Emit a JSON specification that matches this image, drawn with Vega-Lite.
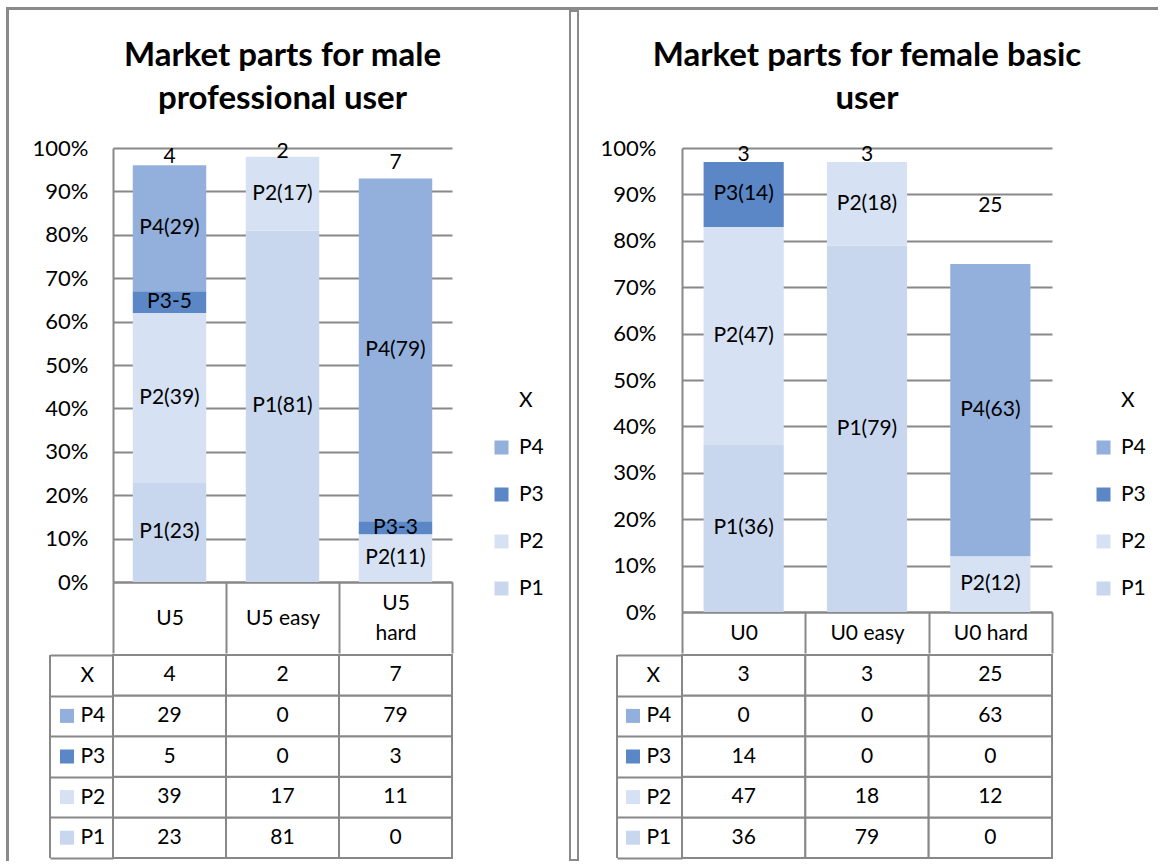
{
  "$schema": "https://vega.github.io/schema/vega-lite/v6.json",
  "padding": {"left": 6, "top": 7, "right": 0, "bottom": 0},
  "background": "white",
  "config": {
    "view": {"stroke": null},
    "font": "Lato",
    "text": {"font": "Lato"},
    "axis": {"labelFont": "Lato"},
    "legend": {"labelFont": "Lato"}
  },
  "datasets": {
    "male": [
      {"cat": "U5", "s": "P1", "v": 23, "lab": "P1(23)"},
      {"cat": "U5", "s": "P2", "v": 39, "lab": "P2(39)"},
      {"cat": "U5", "s": "P3", "v": 5, "lab": "P3-5"},
      {"cat": "U5", "s": "P4", "v": 29, "lab": "P4(29)"},
      {"cat": "U5", "s": "X", "v": 4, "lab": "4"},
      {"cat": "U5 easy", "s": "P1", "v": 81, "lab": "P1(81)"},
      {"cat": "U5 easy", "s": "P2", "v": 17, "lab": "P2(17)"},
      {"cat": "U5 easy", "s": "P3", "v": 0, "lab": ""},
      {"cat": "U5 easy", "s": "P4", "v": 0, "lab": ""},
      {"cat": "U5 easy", "s": "X", "v": 2, "lab": "2"},
      {"cat": "U5 hard", "s": "P1", "v": 0, "lab": ""},
      {"cat": "U5 hard", "s": "P2", "v": 11, "lab": "P2(11)"},
      {"cat": "U5 hard", "s": "P3", "v": 3, "lab": "P3-3"},
      {"cat": "U5 hard", "s": "P4", "v": 79, "lab": "P4(79)"},
      {"cat": "U5 hard", "s": "X", "v": 7, "lab": "7"}
    ],
    "female": [
      {"cat": "U0", "s": "P1", "v": 36, "lab": "P1(36)"},
      {"cat": "U0", "s": "P2", "v": 47, "lab": "P2(47)"},
      {"cat": "U0", "s": "P3", "v": 14, "lab": "P3(14)"},
      {"cat": "U0", "s": "P4", "v": 0, "lab": ""},
      {"cat": "U0", "s": "X", "v": 3, "lab": "3"},
      {"cat": "U0 easy", "s": "P1", "v": 79, "lab": "P1(79)"},
      {"cat": "U0 easy", "s": "P2", "v": 18, "lab": "P2(18)"},
      {"cat": "U0 easy", "s": "P3", "v": 0, "lab": ""},
      {"cat": "U0 easy", "s": "P4", "v": 0, "lab": ""},
      {"cat": "U0 easy", "s": "X", "v": 3, "lab": "3"},
      {"cat": "U0 hard", "s": "P1", "v": 0, "lab": ""},
      {"cat": "U0 hard", "s": "P2", "v": 12, "lab": "P2(12)"},
      {"cat": "U0 hard", "s": "P3", "v": 0, "lab": ""},
      {"cat": "U0 hard", "s": "P4", "v": 63, "lab": "P4(63)"},
      {"cat": "U0 hard", "s": "X", "v": 25, "lab": "25"}
    ]
  },
  "spacing": 0,
  "vconcat": [
    {
      "width": 1150, "height": 1,
      "data": {"values": []},
      "mark": {"type": "point", "opacity": 0},
      "encoding": {},
      "view": {"stroke": "#8a8a8a", "strokeWidth": 2}
    },
    {
      "spacing": 25,
      "resolve": {"scale": {"color": "independent"}, "legend": {"color": "independent"}},
      "hconcat": [
        {
          "spacing": 23,
          "resolve": {"scale": {"color": "independent"}, "legend": {"color": "independent"}},
          "hconcat": [
            {
              "width": 1, "height": 849,
              "data": {"values": []},
              "mark": {"type": "point", "opacity": 0},
              "encoding": {},
              "view": {"stroke": "#8a8a8a", "strokeWidth": 2}
            },
            {
              "spacing": -10,
              "resolve": {"scale": {"color": "independent"}, "legend": {"color": "independent"}},
              "vconcat": [
                {
                  "width": 339, "height": 136,
                  "data": {"values": [{}]},
                  "mark": {"type": "text", "text": ["Market parts for male", "professional user"], "fontSize": 33, "fontWeight": "bold", "lineHeight": 43, "baseline": "middle", "align": "center", "dy": -23, "color": "black"},
                  "encoding": {}
                },
                {
                  "width": 339, "height": 434,
                  "data": {"name": "male"},
                  "transform": [{"stack": "v", "groupby": ["cat"], "sort": [{"field": "s", "order": "ascending"}], "as": ["v0", "v1"]}],
                  "encoding": {
                    "x": {"field": "cat", "type": "nominal", "scale": {"paddingInner": 0, "paddingOuter": 0},
                      "axis": {"title": null, "orient": "bottom", "domainColor": "#888888", "domainWidth": 2, "tickColor": "#888888", "tickWidth": 2, "tickSize": 71, "tickBand": "extent", "labelPadding": {"condition": {"test": "datum.value == 'U5 hard'", "value": -50}, "value": -35}, "labelBaseline": "middle", "labelAngle": 0, "labelFontSize": 21, "labelColor": "black", "labelLineHeight": 30, "labelOverlap": false, "labelExpr": "datum.value == 'U5 hard' ? ['U5', 'hard'] : datum.value"}}
                  },
                  "layer": [
                    {
                      "mark": {"type": "bar", "width": {"band": 0.65}},
                      "encoding": {
                        "y": {"field": "v0", "type": "quantitative", "scale": {"domain": [0, 100], "nice": false},
                          "axis": {"values": [0, 10, 20, 30, 40, 50, 60, 70, 80, 90, 100], "labelExpr": "datum.value + '%'", "title": null, "grid": true, "gridColor": "#888888", "gridWidth": 2, "ticks": false, "labelPadding": 25, "domainColor": "#888888", "domainWidth": 2, "labelFontSize": 22, "labelColor": "black"}},
                        "y2": {"field": "v1"},
                        "color": {"field": "s", "type": "nominal",
                          "scale": {"domain": ["X", "P4", "P3", "P2", "P1"], "range": ["transparent", "#93afdc", "#5b87c6", "#d6e1f3", "#c9d7ee"]},
                          "legend": {"orient": "none", "legendX": 378, "legendY": 242, "title": null, "symbolType": "square", "symbolSize": 196, "symbolStrokeWidth": 0, "labelFontSize": 21, "labelColor": "black", "rowPadding": 25, "labelOffset": 7, "padding": 0}}
                      }
                    },
                    {
                      "transform": [{"filter": "datum.v > 0"}, {"fold": ["v0", "v1"], "as": ["edge", "pos"]}],
                      "mark": {"type": "text", "fontSize": 21, "color": "black"},
                      "encoding": {
                        "y": {"aggregate": "mean", "field": "pos", "type": "quantitative", "stack": null},
                        "detail": {"field": "s"},
                        "text": {"field": "lab"}
                      }
                    }
                  ]
                },
                {
                  "width": 339, "height": 203,
                  "data": {"name": "male"},
                  "layer": [
                    {
                      "mark": {"type": "rect", "fill": "white", "stroke": "#888888", "strokeWidth": 2},
                      "encoding": {
                        "x": {"field": "cat", "type": "nominal", "scale": {"paddingInner": 0, "paddingOuter": 0}, "axis": null},
                        "y": {"field": "s", "type": "nominal", "sort": ["X", "P4", "P3", "P2", "P1"], "scale": {"paddingInner": 0, "paddingOuter": 0},
                          "axis": {"title": null, "orient": "left", "domain": false, "ticks": true, "tickColor": "#888888", "tickWidth": 2, "tickSize": 63, "tickBand": "extent", "labelAlign": "left", "labelBaseline": "middle", "labelPadding": -30, "labelFontSize": 21, "labelColor": "black", "grid": false}}
                      }
                    },
                    {
                      "mark": {"type": "text", "fontSize": 21, "color": "black"},
                      "encoding": {
                        "x": {"field": "cat", "type": "nominal"},
                        "y": {"field": "s", "type": "nominal", "sort": ["X", "P4", "P3", "P2", "P1"]},
                        "text": {"field": "v"}
                      }
                    },
                    {
                      "transform": [{"filter": "datum.cat == 'U5'"}],
                      "mark": {"type": "point", "shape": "square", "filled": true, "size": 196, "opacity": 1, "xOffset": -46},
                      "encoding": {
                        "x": {"field": "cat", "type": "nominal", "bandPosition": 0},
                        "y": {"field": "s", "type": "nominal", "sort": ["X", "P4", "P3", "P2", "P1"]},
                        "color": {"field": "s", "type": "nominal", "scale": {"domain": ["X", "P4", "P3", "P2", "P1"], "range": ["transparent", "#93afdc", "#5b87c6", "#d6e1f3", "#c9d7ee"]}, "legend": null}
                      }
                    },
                    {
                      "transform": [{"filter": "datum.cat == 'U5' && datum.s == 'X'"}],
                      "mark": {"type": "rule", "color": "#888888", "strokeWidth": 2, "xOffset": -63},
                      "encoding": {"x": {"field": "cat", "type": "nominal", "bandPosition": 0}}
                    }
                  ]
                }
              ]
            }
          ]
        },
        {
          "spacing": 21,
          "resolve": {"scale": {"color": "independent"}, "legend": {"color": "independent"}},
          "hconcat": [
            {
              "width": 8, "height": 849,
              "data": {"values": []},
              "mark": {"type": "point", "opacity": 0},
              "encoding": {},
              "view": {"stroke": "#8a8a8a", "strokeWidth": 2}
            },
            {
              "spacing": -10,
              "resolve": {"scale": {"color": "independent"}, "legend": {"color": "independent"}},
              "vconcat": [
                {
                  "width": 370, "height": 136,
                  "data": {"values": [{}]},
                  "mark": {"type": "text", "text": ["Market parts for female basic", "user"], "fontSize": 33, "fontWeight": "bold", "lineHeight": 43, "baseline": "middle", "align": "center", "dy": -23, "color": "black"},
                  "encoding": {}
                },
                {
                  "width": 370, "height": 464,
                  "data": {"name": "female"},
                  "transform": [{"stack": "v", "groupby": ["cat"], "sort": [{"field": "s", "order": "ascending"}], "as": ["v0", "v1"]}],
                  "encoding": {
                    "x": {"field": "cat", "type": "nominal", "scale": {"paddingInner": 0, "paddingOuter": 0},
                      "axis": {"title": null, "orient": "bottom", "domainColor": "#888888", "domainWidth": 2, "tickColor": "#888888", "tickWidth": 2, "tickSize": 41, "tickBand": "extent", "labelPadding": -20, "labelBaseline": "middle", "labelAngle": 0, "labelFontSize": 21, "labelColor": "black", "labelOverlap": false}}
                  },
                  "layer": [
                    {
                      "mark": {"type": "bar", "width": {"band": 0.65}},
                      "encoding": {
                        "y": {"field": "v0", "type": "quantitative", "scale": {"domain": [0, 100], "nice": false},
                          "axis": {"values": [0, 10, 20, 30, 40, 50, 60, 70, 80, 90, 100], "labelExpr": "datum.value + '%'", "title": null, "grid": true, "gridColor": "#888888", "gridWidth": 2, "ticks": false, "labelPadding": 26, "domainColor": "#888888", "domainWidth": 2, "labelFontSize": 22, "labelColor": "black"}},
                        "y2": {"field": "v1"},
                        "color": {"field": "s", "type": "nominal",
                          "scale": {"domain": ["X", "P4", "P3", "P2", "P1"], "range": ["transparent", "#93afdc", "#5b87c6", "#d6e1f3", "#c9d7ee"]},
                          "legend": {"orient": "none", "legendX": 411, "legendY": 242, "title": null, "symbolType": "square", "symbolSize": 196, "symbolStrokeWidth": 0, "labelFontSize": 21, "labelColor": "black", "rowPadding": 25, "labelOffset": 7, "padding": 0}}
                      }
                    },
                    {
                      "transform": [{"filter": "datum.v > 0"}, {"fold": ["v0", "v1"], "as": ["edge", "pos"]}],
                      "mark": {"type": "text", "fontSize": 21, "color": "black"},
                      "encoding": {
                        "y": {"aggregate": "mean", "field": "pos", "type": "quantitative", "stack": null},
                        "detail": {"field": "s"},
                        "text": {"field": "lab"}
                      }
                    }
                  ]
                },
                {
                  "width": 370, "height": 203,
                  "data": {"name": "female"},
                  "layer": [
                    {
                      "mark": {"type": "rect", "fill": "white", "stroke": "#888888", "strokeWidth": 2},
                      "encoding": {
                        "x": {"field": "cat", "type": "nominal", "scale": {"paddingInner": 0, "paddingOuter": 0}, "axis": null},
                        "y": {"field": "s", "type": "nominal", "sort": ["X", "P4", "P3", "P2", "P1"], "scale": {"paddingInner": 0, "paddingOuter": 0},
                          "axis": {"title": null, "orient": "left", "domain": false, "ticks": true, "tickColor": "#888888", "tickWidth": 2, "tickSize": 65, "tickBand": "extent", "labelAlign": "left", "labelBaseline": "middle", "labelPadding": -29, "labelFontSize": 21, "labelColor": "black", "grid": false}}
                      }
                    },
                    {
                      "mark": {"type": "text", "fontSize": 21, "color": "black"},
                      "encoding": {
                        "x": {"field": "cat", "type": "nominal"},
                        "y": {"field": "s", "type": "nominal", "sort": ["X", "P4", "P3", "P2", "P1"]},
                        "text": {"field": "v"}
                      }
                    },
                    {
                      "transform": [{"filter": "datum.cat == 'U0'"}],
                      "mark": {"type": "point", "shape": "square", "filled": true, "size": 196, "opacity": 1, "xOffset": -49},
                      "encoding": {
                        "x": {"field": "cat", "type": "nominal", "bandPosition": 0},
                        "y": {"field": "s", "type": "nominal", "sort": ["X", "P4", "P3", "P2", "P1"]},
                        "color": {"field": "s", "type": "nominal", "scale": {"domain": ["X", "P4", "P3", "P2", "P1"], "range": ["transparent", "#93afdc", "#5b87c6", "#d6e1f3", "#c9d7ee"]}, "legend": null}
                      }
                    },
                    {
                      "transform": [{"filter": "datum.cat == 'U0' && datum.s == 'X'"}],
                      "mark": {"type": "rule", "color": "#888888", "strokeWidth": 2, "xOffset": -65},
                      "encoding": {"x": {"field": "cat", "type": "nominal", "bandPosition": 0}}
                    }
                  ]
                }
              ]
            }
          ]
        }
      ]
    }
  ]
}
